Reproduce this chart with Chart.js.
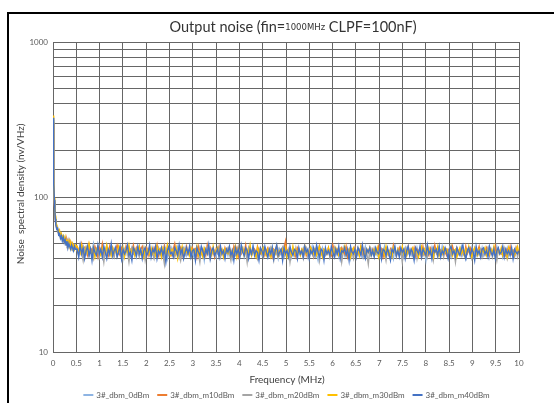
<!DOCTYPE html>
<html><head><meta charset="utf-8">
<script src="https://cdn.jsdelivr.net/npm/chart.js@4"></script>
<style>
html,body{margin:0;padding:0;background:#fff;overflow:hidden;width:554px;height:403px}
#frame{position:absolute;left:7px;top:12px;width:600px;height:450px;border-left:2px solid #000;border-top:2px solid #000}
canvas{position:absolute;left:0;top:0}
</style></head><body>
<div id="frame"></div>
<canvas id="c" width="554" height="403"></canvas>
<script>
const seriesNames = ['3#_dbm_0dBm','3#_dbm_m10dBm','3#_dbm_m20dBm','3#_dbm_m30dBm','3#_dbm_m40dBm'];
const seriesColors = ['#8EB4E3','#ED7D31','#A5A5A5','#FFC000','#4472C4'];
const yTickLabels = [10, 100, 1000];
const xTickStep = 0.5;

// low-frequency sweep points (MHz) and values
const headFreq = [0,0.01,0.02,0.03,0.04,0.05,0.06,0.08,0.10,0.12,0.14,0.16,0.18,0.20,0.22,0.24,0.26,0.28,0.30,0.32,0.34,0.36,0.38,0.40,0.42,0.44,0.46,0.48];
const head0dBm  = [315,170,120,95,82,74,70,64,61,60,57,58,55,56,53,55,52,54,51,50,53,49,51,48,50,47,49,48];
const head10dBm = [300,160,115,92,80,72,67,63,62,58,59,56,57,54,55,52,54,51,53,50,49,52,48,50,47,49,48,47];
const head20dBm = [305,165,118,94,81,73,68,65,60,59,56,57,54,55,52,53,50,52,49,51,48,50,47,49,46,48,46,47];
const head30dBm = [335,180,125,99,85,76,69,66,62,59,61,56,58,54,56,52,55,50,53,49,52,48,51,47,50,48,46,49];
const head40dBm = [325,175,122,96,83,72,66,62,63,57,58,54,56,52,55,51,53,49,52,47,50,48,46,49,47,45,48,46];

// noise floor values, 0.52 MHz .. 10 MHz (evenly spaced sweep)
const tail0dBm = [
47,43,49,45,41,46,48,44,42,47,45,50,43,46,41,48,44,46,42,45,49,43,47,44,41,
46,48,42,45,44,47,40,46,43,49,45,42,47,44,46,41,45,48,43,44,46,42,47,45,43,
44,47,41,45,48,43,46,42,44,49,45,40,46,43,47,44,42,45,48,41,46,44,43,47,42,
45,43,48,44,41,46,45,42,47,43,46,39,45,44,48,42,46,43,45,41,47,44,42,46,45,
43,46,42,47,44,40,45,48,43,46,42,44,47,41,45,43,46,44,42,48,43,45,41,46,44,
42,47,44,45,41,46,43,48,42,45,44,40,46,43,47,44,42,45,43,46,41,47,44,43,45,
46,42,44,47,43,45,41,46,44,48,42,45,43,39,46,44,47,42,45,43,46,41,44,47,43,
45,44,41,46,43,47,42,45,44,46,40,45,43,47,44,42,46,45,41,44,48,43,45,42,46,
43,47,44,42,46,41,45,44,48,43,45,42,46,44,40,47,43,45,42,46,44,41,45,47,43,
44,42,46,45,41,47,43,44,46,42,45,39,46,44,43,47,42,45,44,41,46,43,48,42,45,
46,43,45,41,47,44,42,46,43,45,48,42,44,40,46,45,43,47,41,44,46,42,45,43,47,
42,45,44,47,41,46,43,45,42,48,44,43,46,41,45,44,47,42,46,43,45,41,44,46,43];
const tail10dBm = [
48,44,46,50,43,47,45,42,49,44,46,43,48,45,41,47,44,50,43,46,45,42,48,44,47,
43,46,49,44,42,47,45,43,48,44,41,46,45,49,43,47,44,42,46,48,43,45,47,42,46,
45,43,47,44,49,42,46,45,43,48,41,45,47,44,42,46,50,43,45,44,47,42,46,44,48,
43,45,42,47,44,46,41,48,44,43,46,45,42,49,44,47,43,45,41,46,44,48,43,45,42,
47,44,46,43,45,42,48,44,47,41,45,43,46,44,49,42,45,47,43,44,46,42,48,45,43,
44,46,42,45,47,43,44,41,46,45,48,42,44,46,43,47,52,44,42,45,43,46,44,41,47,
45,43,46,44,48,42,45,43,47,44,41,46,45,43,48,44,42,46,45,43,47,44,42,49,45,
43,46,44,42,47,45,43,48,41,45,44,46,43,47,42,45,44,48,43,46,42,45,44,47,43,
46,42,45,44,48,43,46,41,45,47,44,42,46,43,49,45,42,44,47,43,45,46,42,44,48,
44,45,43,47,42,46,44,45,41,48,43,46,44,42,47,45,43,49,44,42,46,45,43,47,44,
42,46,45,43,48,44,41,47,45,43,46,44,42,48,43,45,47,42,44,46,43,45,48,42,46,
45,43,47,44,42,46,45,43,48,41,46,44,43,47,45,42,46,44,48,43,45,42,47,44,45];
const tail20dBm = [
45,42,47,44,39,46,43,48,42,45,44,40,46,43,47,41,45,44,38,46,43,45,42,47,44,
41,46,44,43,47,40,45,42,46,44,38,45,47,43,42,46,44,41,45,43,47,39,44,46,42,
45,43,40,46,44,47,42,45,43,37,46,44,42,47,43,45,41,44,46,43,39,45,47,42,44,
43,46,41,45,44,42,47,43,38,46,45,42,44,47,43,40,45,46,42,44,43,47,41,45,44,
42,45,47,43,39,46,44,42,45,48,41,44,46,43,45,38,47,44,42,46,43,45,40,44,47,
44,41,46,43,45,42,47,44,39,45,43,46,42,44,47,41,45,43,46,38,44,45,42,47,43,
46,43,44,40,45,47,42,44,46,43,41,45,44,47,39,46,43,45,42,44,46,41,45,43,47,
42,45,44,46,38,44,47,43,45,42,46,44,40,45,43,47,42,44,46,41,45,43,37,46,44,
45,42,46,44,43,47,41,45,44,39,46,43,45,42,47,44,41,46,43,45,38,44,47,42,45,
43,46,42,44,47,40,45,43,46,42,44,48,41,45,43,46,39,44,45,42,47,43,45,41,46,
44,43,47,42,45,44,38,46,43,45,42,47,44,41,45,46,43,40,44,47,42,45,43,46,41,
45,42,44,47,43,46,41,45,44,39,46,43,45,42,47,44,40,45,43,46,42,44,47,41,45];
const tail30dBm = [
48,45,43,49,46,42,47,44,50,45,43,47,41,46,48,44,42,47,45,43,49,44,46,42,47,
44,46,42,48,45,43,47,41,46,44,49,43,45,47,42,46,44,48,43,45,41,47,44,46,43,
47,43,45,42,48,44,46,41,47,45,43,49,44,42,46,45,43,47,40,45,44,48,42,46,44,
45,42,47,44,46,43,48,42,45,44,41,47,45,43,46,44,42,48,43,45,47,42,44,46,41,
46,44,43,47,42,45,44,48,41,46,43,45,47,42,44,46,43,49,42,45,44,41,47,43,46,
43,47,45,42,46,44,41,47,45,43,48,42,45,44,46,43,47,41,45,44,42,48,43,46,44,
45,42,46,44,48,43,45,41,47,44,43,46,42,45,48,44,41,46,45,43,47,42,44,46,43,
47,44,42,46,43,45,48,42,44,46,41,45,47,43,44,46,42,48,45,43,41,46,44,47,42,
44,46,43,47,41,45,44,46,42,48,43,45,44,41,47,45,43,46,42,44,48,43,45,42,46,
43,45,47,42,46,44,41,45,48,43,46,42,44,47,43,45,41,46,44,48,42,45,43,47,44,
46,43,44,48,42,45,46,41,44,47,43,45,42,46,44,48,43,41,45,47,44,42,46,43,45,
44,47,42,45,43,46,44,48,41,45,46,43,47,42,44,45,41,47,43,46,44,42,45,48,43];
const tail40dBm = [
46,41,49,43,47,40,45,48,42,46,39,47,44,42,49,43,46,41,48,44,40,46,43,50,42,
45,47,41,44,48,40,46,43,45,49,42,44,39,47,45,42,48,43,46,40,45,47,42,44,49,
41,46,44,48,40,45,43,47,42,46,38,45,48,43,44,41,47,45,42,49,43,46,40,44,47,
43,48,41,45,46,39,47,44,42,48,45,41,46,43,49,40,45,47,42,44,46,41,48,43,45,
40,46,44,48,42,45,39,47,43,46,41,49,44,42,47,45,40,46,43,48,42,45,44,39,47,
45,42,48,44,41,46,43,47,40,45,49,42,44,46,39,47,43,45,41,48,44,42,46,45,40,
47,43,45,41,48,44,46,40,45,43,47,42,49,44,41,46,45,39,47,43,45,42,48,44,41,
46,43,48,40,45,44,47,42,46,39,48,44,43,46,41,47,45,42,49,43,40,46,44,47,42,
45,41,47,44,43,48,40,46,45,42,47,43,39,46,44,48,42,45,41,47,44,46,40,45,48,
42,46,44,39,47,45,43,48,41,46,44,42,49,43,45,40,47,44,46,42,48,41,45,43,47,
44,40,46,48,43,45,41,47,44,42,46,49,43,40,45,47,42,46,44,39,48,43,45,41,46,
47,43,45,41,48,44,42,46,40,45,47,43,44,48,41,46,43,45,42,47,40,46,44,43,45];

const tailStart = 0.52, tailEnd = 10;
const heads = [head0dBm, head10dBm, head20dBm, head30dBm, head40dBm];
const tails = [tail0dBm, tail10dBm, tail20dBm, tail30dBm, tail40dBm];

function buildPoints(head, tail) {
  const pts = head.map((v, i) => ({x: headFreq[i], y: v}));
  const step = (tailEnd - tailStart) / (tail.length - 1);
  tail.forEach((v, i) => pts.push({x: tailStart + i * step, y: v}));
  return pts;
}

const datasets = seriesNames.map((name, i) => ({
  label: name,
  data: buildPoints(heads[i], tails[i]),
  borderColor: seriesColors[i],
  backgroundColor: seriesColors[i],
  borderWidth: 1.4,
  pointRadius: 0,
  tension: 0,
  order: seriesNames.length - i
}));

const FONT = 'Lato, "Open Sans", sans-serif';

const decor = {
  id: 'decor',
  afterDraw(chart) {
    const ctx = chart.ctx;
    ctx.save();
    // Title with mixed fonts
    const p1 = 'Output noise (fin=', p2 = '1000MHz', p3 = ' CLPF=100nF)';
    const f1 = '14.5px ' + FONT, f2 = '8.5px "DejaVu Sans", sans-serif';
    ctx.font = f1; const w1 = ctx.measureText(p1).width, w3 = ctx.measureText(p3).width;
    ctx.font = f2; const w2 = ctx.measureText(p2).width;
    const total = w1 + w2 + w3;
    let x = 293 - total / 2; const ty = 27;
    ctx.textBaseline = 'middle'; ctx.textAlign = 'left'; ctx.fillStyle = '#333333';
    ctx.font = f1; ctx.fillText(p1, x, ty); x += w1;
    ctx.font = f2; ctx.fillText(p2, x, ty + 1); x += w2;
    ctx.font = f1; ctx.fillText(p3, x, ty);
    // Axis titles
    ctx.fillStyle = '#404040';
    ctx.font = '10px ' + FONT;
    ctx.textAlign = 'center';
    ctx.fillText('Frequency (MHz)', 287, 380);
    ctx.save();
    ctx.translate(21, 194);
    ctx.rotate(-Math.PI / 2);
    ctx.fillText('Noise  spectral density (nv/VHz)', 0, 0);
    ctx.restore();
    // Legend
    ctx.font = '8px ' + FONT;
    ctx.textAlign = 'left';
    const lineLen = 10, gap = 3, spacing = 8;
    const widths = seriesNames.map(n => lineLen + gap + ctx.measureText(n).width);
    const tw = widths.reduce((a, b) => a + b, 0) + spacing * (seriesNames.length - 1);
    let lx = 286.5 - tw / 2; const ly = 395;
    seriesNames.forEach((n, i) => {
      ctx.strokeStyle = seriesColors[i]; ctx.lineWidth = 2;
      ctx.beginPath(); ctx.moveTo(lx, ly); ctx.lineTo(lx + lineLen, ly); ctx.stroke();
      ctx.fillStyle = '#595959';
      ctx.fillText(n, lx + lineLen + gap, ly);
      lx += widths[i] + spacing;
    });
    ctx.restore();
  }
};

new Chart(document.getElementById('c'), {
  type: 'line',
  data: { datasets },
  options: {
    responsive: false,
    animation: false,
    devicePixelRatio: 1,
    layout: { padding: { top: 42, right: 35, left: 0, bottom: 0 } },
    plugins: { legend: { display: false }, title: { display: false }, tooltip: { enabled: false } },
    scales: {
      x: {
        type: 'linear', min: 0, max: 10,
        ticks: { stepSize: xTickStep, autoSkip: false, maxRotation: 0, color: '#595959', font: { family: FONT, size: 8 }, padding: 7,
          callback: (v) => String(Math.round(v * 10) / 10) },
        grid: { color: '#666666', lineWidth: 1, drawTicks: false },
        border: { color: '#666666' },
        afterFit(s) { s.height = 51; }
      },
      y: {
        type: 'logarithmic', min: 10, max: 1000,
        ticks: { autoSkip: false, color: '#595959', font: { family: FONT, size: 8 }, padding: 5,
          callback: (v) => yTickLabels.includes(Number(v)) ? String(v) : '' },
        grid: { color: '#666666', lineWidth: 1, drawTicks: false },
        border: { color: '#666666' },
        afterFit(s) { s.width = 53; }
      }
    }
  },
  plugins: [decor]
});
</script>
</body></html>
